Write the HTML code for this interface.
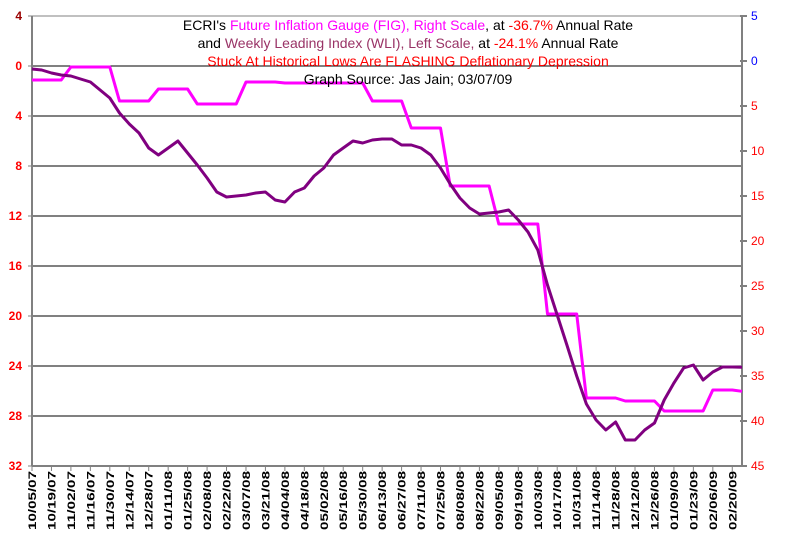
<!DOCTYPE html>
<html><head><meta charset="utf-8"><style>
body{margin:0;background:#fff;}
svg{display:block;font-family:"Liberation Sans",Arial,sans-serif;}
</style></head><body>
<svg id="chart" width="790" height="541" viewBox="0 0 790 541" xmlns="http://www.w3.org/2000/svg">
<g id="grid"></g>
<g id="axes"></g>
<g id="series"></g>
<g font-size="14" text-anchor="middle">
<text x="408" y="30"><tspan fill="#000">ECRI's </tspan><tspan fill="#ff00ff">Future Inflation Gauge (FIG), Right Scale</tspan><tspan fill="#000">, at </tspan><tspan fill="#ff0000">-36.7%</tspan><tspan fill="#000"> Annual Rate</tspan></text>
<text x="408" y="48"><tspan fill="#000">and </tspan><tspan fill="#993366">Weekly Leading Index (WLI), Left Scale,</tspan><tspan fill="#000"> at </tspan><tspan fill="#ff0000">-24.1%</tspan><tspan fill="#000"> Annual Rate</tspan></text>
<text x="408" y="66" fill="#ff0000">Stuck At Historical Lows Are FLASHING Deflationary Depression</text>
<text x="408" y="84" fill="#000">Graph Source: Jas Jain; 03/07/09</text>
</g>
</svg>
<script>
const xLabels=["10/05/07","10/19/07","11/02/07","11/16/07","11/30/07","12/14/07","12/28/07","01/11/08","01/25/08","02/08/08","02/22/08","03/07/08","03/21/08","04/04/08","04/18/08","05/02/08","05/16/08","05/30/08","06/13/08","06/27/08","07/11/08","07/25/08","08/08/08","08/22/08","09/05/08","09/19/08","10/03/08","10/17/08","10/31/08","11/14/08","11/28/08","12/12/08","12/26/08","01/09/09","01/23/09","02/06/09","02/20/09"];
const leftTicks=[4,0,-4,-8,-12,-16,-20,-24,-28,-32];
const rightTicks=[5,0,-5,-10,-15,-20,-25,-30,-35,-40,-45];
const wli=[-0.24,-0.32,-0.56,-0.72,-0.8,-1.04,-1.28,-1.92,-2.56,-3.76,-4.64,-5.36,-6.56,-7.12,-6.56,-6.0,-6.96,-7.92,-8.96,-10.08,-10.48,-10.4,-10.32,-10.16,-10.08,-10.72,-10.88,-10.08,-9.76,-8.8,-8.16,-7.12,-6.56,-6.0,-6.16,-5.92,-5.84,-5.84,-6.32,-6.32,-6.56,-7.12,-8.16,-9.44,-10.56,-11.36,-11.84,-11.76,-11.68,-11.52,-12.32,-13.28,-14.72,-17.52,-19.92,-22.32,-24.8,-27.04,-28.32,-29.12,-28.48,-29.92,-29.92,-29.12,-28.56,-26.72,-25.36,-24.16,-23.92,-25.12,-24.48,-24.08,-24.08,-24.1];
const fig=[-2.11,-2.11,-2.11,-2.11,-0.67,-0.67,-0.67,-0.67,-0.67,-4.44,-4.44,-4.44,-4.44,-3.11,-3.11,-3.11,-3.11,-4.78,-4.78,-4.78,-4.78,-4.78,-2.33,-2.33,-2.33,-2.33,-2.44,-2.44,-2.44,-2.44,-2.44,-2.44,-2.44,-2.44,-2.44,-4.44,-4.44,-4.44,-4.44,-7.44,-7.44,-7.44,-7.44,-13.89,-13.89,-13.89,-13.89,-13.89,-18.11,-18.11,-18.11,-18.11,-18.11,-28.11,-28.11,-28.11,-28.11,-37.44,-37.44,-37.44,-37.44,-37.78,-37.78,-37.78,-37.78,-38.89,-38.89,-38.89,-38.89,-38.89,-36.56,-36.56,-36.56,-36.7];

const NS="http://www.w3.org/2000/svg";
const X0=32,X1=742,YT=16,YB=466;
const nWeeks=wli.length;
const xW=i=>X0+i*(X1-X0)/(nWeeks-1);
const yL=v=>66-v*12.5;
const yR=v=>61-v*9;
function mk(tag,attrs,parent){const e=document.createElementNS(NS,tag);for(const k in attrs)e.setAttribute(k,attrs[k]);parent.appendChild(e);return e;}
const grid=document.getElementById('grid'),axes=document.getElementById('axes'),series=document.getElementById('series');

leftTicks.forEach((t,i)=>{
  const y=yL(t);
  const g=mk('line',{x1:X0,x2:X1,y1:y,y2:y,stroke:i===0?'#808080':'#000','stroke-width':1},grid);
  
  
  const tk=mk('line',{x1:X0-4,x2:X0,y1:y,y2:y,stroke:'#808080'},axes);
  
  
  const tx=mk('text',{x:22,y:y+4,'text-anchor':'end','font-size':12,'font-weight':'bold',fill:i===0?'#990000':'#ff0000'},axes);
  tx.textContent=String(Math.abs(t));
  
  
});
rightTicks.forEach((t,i)=>{
  const y=yR(t);
  const tk=mk('line',{x1:X1-2,x2:X1+5,y1:y,y2:y,stroke:'#000'},axes);
  
  
  const tx=mk('text',{x:751,y:y+4,'font-size':12,fill:i<2?'#0000ff':'#ff0000'},axes);
  tx.textContent=String(Math.abs(t));
  
  
});
const la=mk('line',{x1:X0,x2:X0,y1:YT,y2:YB,stroke:'#808080','stroke-width':2},axes);


const ra=mk('line',{x1:X1,x2:X1,y1:YT,y2:YB,stroke:'#808080','stroke-width':2},axes);


const ba=mk('line',{x1:X0,x2:X1,y1:YB,y2:YB,stroke:'#808080','stroke-width':2},axes);


xLabels.forEach((l,i)=>{
  const x=xW(i*2);
  const tk=mk('line',{x1:x,x2:x,y1:YB,y2:YB+5,stroke:'#808080'},axes);
  
  
  const tx=mk('text',{x:0,y:0,'text-anchor':'end','font-size':11,'font-weight':'bold',fill:'#000',textLength:59,lengthAdjust:'spacingAndGlyphs',transform:`translate(${x+4},471) rotate(-90)`},axes);
  tx.textContent=l;
  
  
});
const pf=mk('polyline',{points:fig.map((v,i)=>xW(i).toFixed(1)+','+yR(v).toFixed(1)).join(' '),fill:'none',stroke:'#ff00ff','stroke-width':3,'stroke-linejoin':'round'},series);


const pw=mk('polyline',{points:wli.map((v,i)=>xW(i).toFixed(1)+','+yL(v).toFixed(1)).join(' '),fill:'none',stroke:'#800080','stroke-width':3,'stroke-linejoin':'round'},series);


</script>
</body></html>
